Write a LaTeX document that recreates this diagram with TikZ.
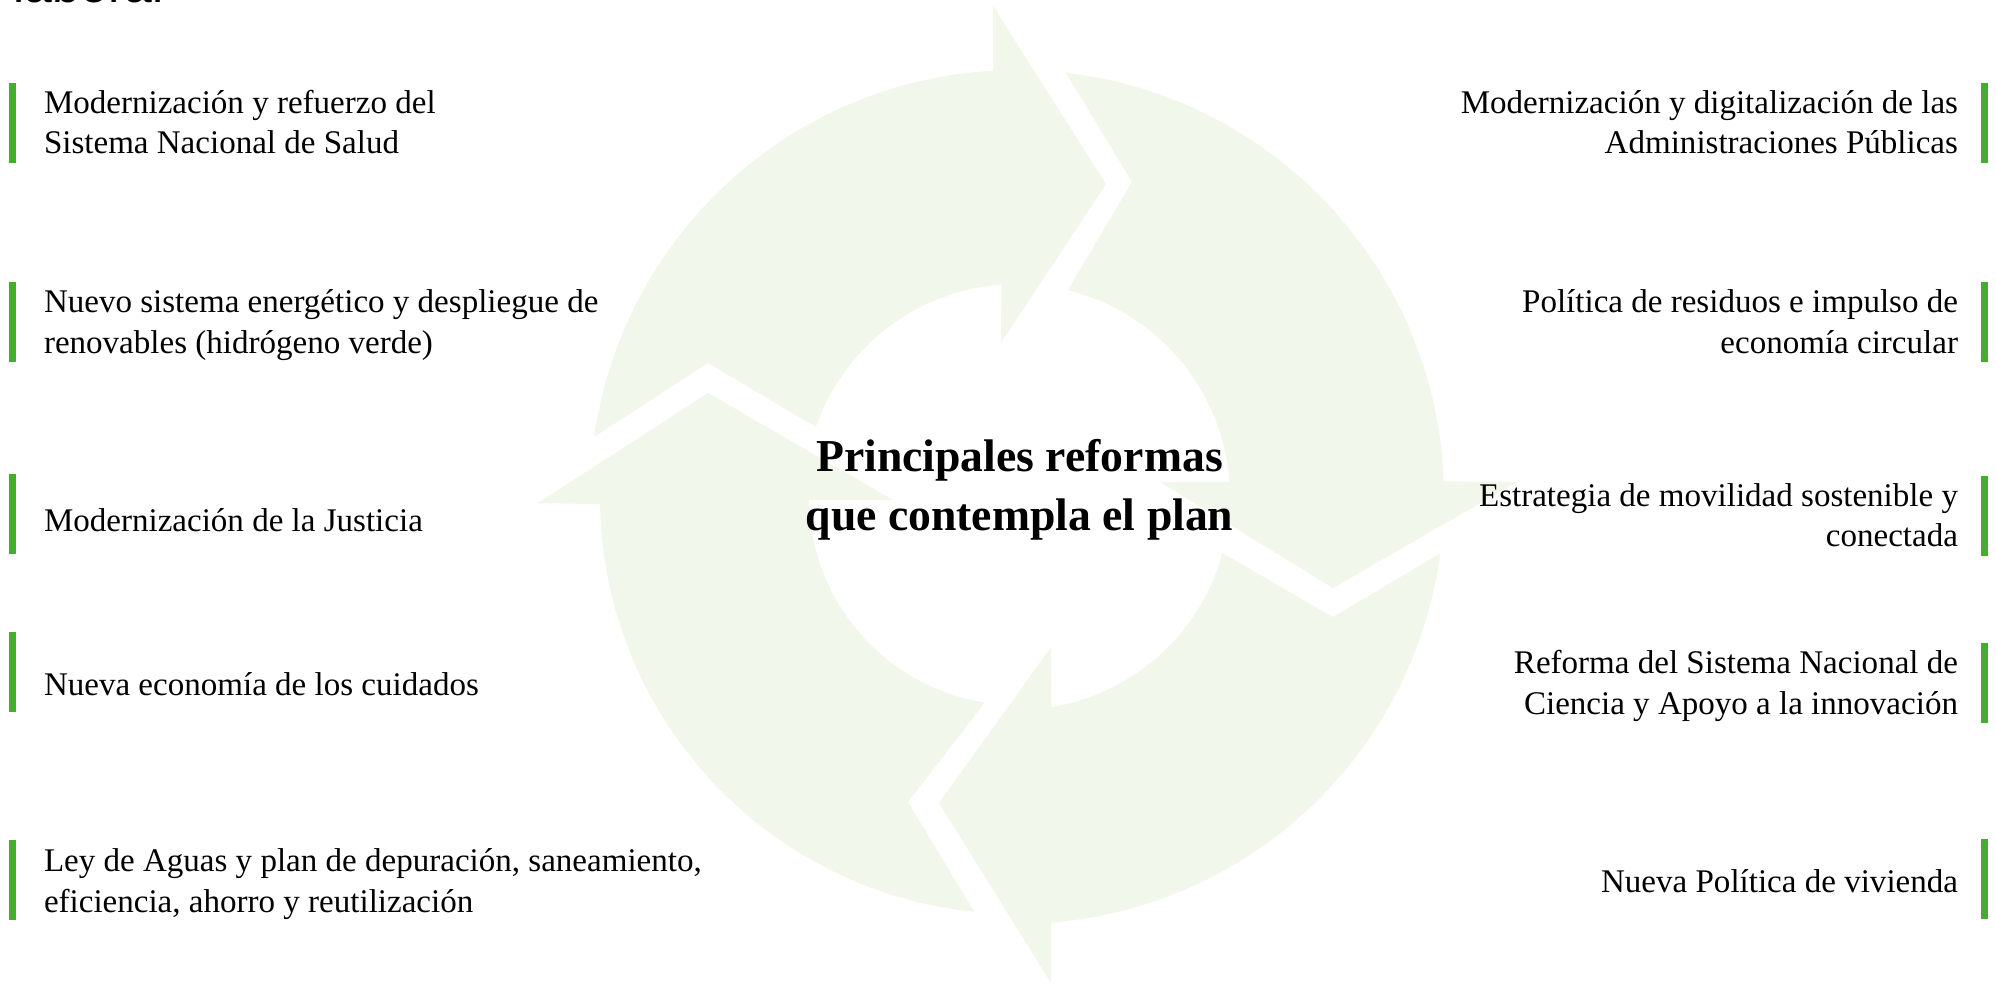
\documentclass[tikz,border=0pt]{standalone}
\usepackage{fontspec}
\setmainfont{Liberation Serif}
\newfontfamily\headfont{Liberation Sans}
\usetikzlibrary{calc}
\definecolor{cyclegreen}{RGB}{241,247,234}
\definecolor{bargreen}{RGB}{68,172,46}
\tikzstyle{cyclearrow} = [fill=cyclegreen]
\tikzstyle{greenbar} = [rectangle, fill=bargreen, inner sep=0pt, minimum width=0.064cm, minimum height=0.8cm]
\tikzstyle{itemleft} = [anchor=base west, align=left, inner sep=0pt, font=\fontsize{9.4}{11.4}\selectfont]
\tikzstyle{itemright} = [anchor=base east, align=right, inner sep=0pt, font=\fontsize{9.4}{11.4}\selectfont]
\tikzstyle{heading} = [anchor=base, align=center, inner sep=0pt, font=\bfseries\fontsize{13}{16.6}\selectfont]

\begin{document}
\begin{tikzpicture}
	\useasboundingbox (0,0) rectangle (19.96,9.83);
	\coordinate (C) at (10.17, 4.86);
	% the four arrows of the cycle
	\fill[cyclearrow] ($(C)+(171.9:4.27)$) arc[start angle=171.9, end angle=93.2, radius=4.27] -- (9.93,9.77) -- (11.06,7.99) -- (10.01,6.40) -- ($(C)+(94.2:2.13)$) arc[start angle=94.2, end angle=160.8, radius=2.13] -- (7.08,6.20) -- cycle;
	\fill[cyclearrow] ($(C)+(83.4:4.27)$) arc[start angle=83.4, end angle=2.1, radius=4.27] -- (15.17,5.01) -- (13.33,3.95) -- (11.60,5.01) -- ($(C)+(4.1:2.13)$) arc[start angle=4.1, end angle=76.2, radius=2.13] -- (11.32,8.01) -- cycle;
	\fill[cyclearrow] ($(C)+(-7.6:4.27)$) arc[start angle=-7.6, end angle=-85.4, radius=4.27] -- (10.51,0.00) -- (9.39,1.80) -- (10.51,3.36) -- ($(C)+(-80.7:2.13)$) arc[start angle=-80.7, end angle=-15.3, radius=2.13] -- (13.33,3.66) -- cycle;
	\fill[cyclearrow] ($(C)+(264.1:4.17)$) arc[start angle=264.1, end angle=181.0, radius=4.17] -- (5.38,4.80) -- (7.08,5.90) -- (8.93,4.83) -- ($(C)+(180.8:2.08)$) arc[start angle=180.8, end angle=261.1, radius=2.08] -- (9.08,1.81) -- cycle;

	\node (laboral) at (0.13, 9.81) [anchor=base west, inner sep=0pt, font=\headfont\fontsize{14.2}{17}\selectfont] {laboral};
	\node (title) at (10.195, 4.53) [heading] {Principales reformas\\que contempla el plan};

	% left column
	\node (lbar1) at (0.125, 8.60) [greenbar] {};
	\node (lbar2) at (0.125, 6.61) [greenbar] {};
	\node (lbar3) at (0.125, 4.69) [greenbar] {};
	\node (lbar4) at (0.125, 3.113) [greenbar] {};
	\node (lbar5) at (0.125, 1.027) [greenbar] {};
	\node (salud) at (0.433, 8.297) [itemleft] {Modernización y refuerzo del\\Sistema Nacional de Salud};
	\node (energia) at (0.433, 6.30) [itemleft] {Nuevo sistema energético y despliegue de\\renovables (hidrógeno verde)};
	\node (justicia) at (0.433, 4.52) [itemleft] {Modernización de la Justicia};
	\node (cuidados) at (0.433, 2.873) [itemleft] {Nueva economía de los cuidados};
	\node (aguas) at (0.433, 0.71) [itemleft] {Ley de Aguas y plan de depuración, saneamiento,\\eficiencia, ahorro y reutilización};

	% right column
	\node (rbar1) at (19.845, 8.60) [greenbar] {};
	\node (rbar2) at (19.845, 6.61) [greenbar] {};
	\node (rbar3) at (19.845, 4.67) [greenbar] {};
	\node (rbar4) at (19.845, 3.00) [greenbar] {};
	\node (rbar5) at (19.845, 1.037) [greenbar] {};
	\node (admin) at (19.587, 8.297) [itemright] {Modernización y digitalización de las\\Administraciones Públicas};
	\node (residuos) at (19.587, 6.30) [itemright] {Política de residuos e impulso de\\economía circular};
	\node (movilidad) at (19.587, 4.363) [itemright] {Estrategia de movilidad sostenible y\\conectada};
	\node (ciencia) at (19.587, 2.69) [itemright] {Reforma del Sistema Nacional de\\Ciencia y Apoyo a la innovación};
	\node (vivienda) at (19.587, 0.903) [itemright] {Nueva Política de vivienda};
\end{tikzpicture}
\end{document}
